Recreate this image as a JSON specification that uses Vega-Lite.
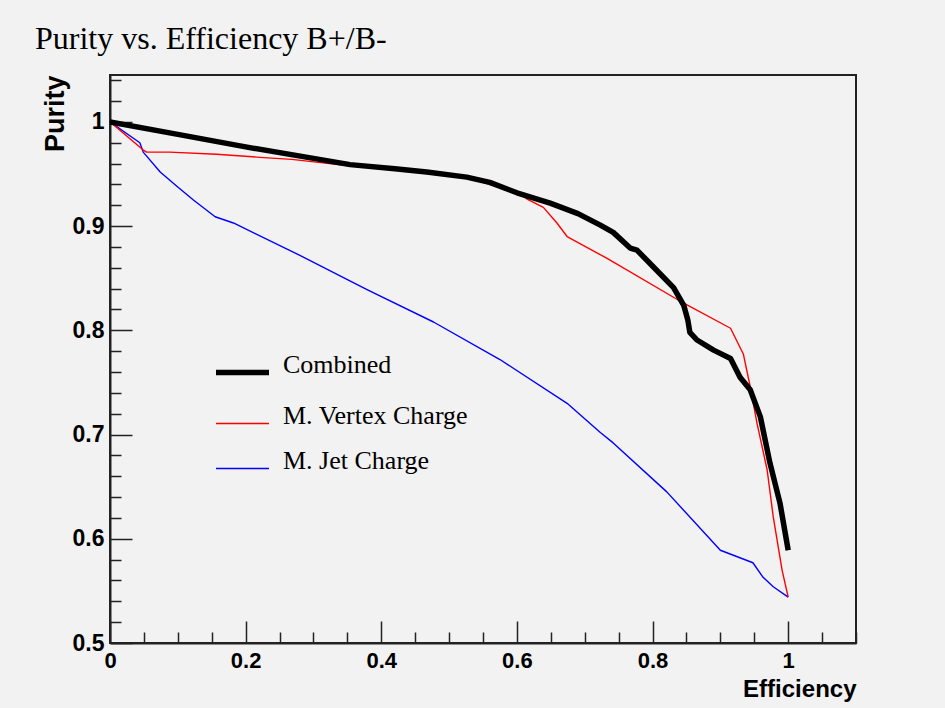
{
  "$schema": "https://vega.github.io/schema/vega-lite/v6.json",
  "width": 746,
  "height": 568,
  "autosize": {"type": "none"},
  "padding": {"left": 110, "top": 75, "right": 89, "bottom": 65},
  "background": "#f2f2f2",
  "config": {
    "view": {"stroke": "#222", "strokeWidth": 2},
    "font": "Liberation Sans",
    "legend": {
      "orient": "none",
      "legendX": 103,
      "legendY": 268,
      "title": null,
      "symbolType": "stroke",
      "symbolSize": 2809,
      "labelFont": "Liberation Serif",
      "labelFontSize": 26,
      "labelColor": "black",
      "labelOffset": 11,
      "labelLimit": 500,
      "labelBaseline": "alphabetic",
      "rowPadding": 12,
      "padding": 0
    }
  },
  "title": {
    "text": "Purity vs. Efficiency B+/B-",
    "anchor": "start",
    "frame": "group",
    "font": "Liberation Serif",
    "fontSize": 32,
    "fontWeight": "normal",
    "color": "black",
    "dx": -75,
    "offset": 13
  },
  "data": {
    "values": [
      {"s": "M. Jet Charge", "e": 0, "p": 1.0},
      {"s": "M. Jet Charge", "e": 0.044, "p": 0.98},
      {"s": "M. Jet Charge", "e": 0.049, "p": 0.971},
      {"s": "M. Jet Charge", "e": 0.074, "p": 0.952},
      {"s": "M. Jet Charge", "e": 0.099, "p": 0.938},
      {"s": "M. Jet Charge", "e": 0.123, "p": 0.925},
      {"s": "M. Jet Charge", "e": 0.155, "p": 0.909},
      {"s": "M. Jet Charge", "e": 0.182, "p": 0.903},
      {"s": "M. Jet Charge", "e": 0.28, "p": 0.872},
      {"s": "M. Jet Charge", "e": 0.379, "p": 0.839},
      {"s": "M. Jet Charge", "e": 0.477, "p": 0.808},
      {"s": "M. Jet Charge", "e": 0.575, "p": 0.772},
      {"s": "M. Jet Charge", "e": 0.674, "p": 0.73},
      {"s": "M. Jet Charge", "e": 0.723, "p": 0.702},
      {"s": "M. Jet Charge", "e": 0.742, "p": 0.692},
      {"s": "M. Jet Charge", "e": 0.821, "p": 0.645},
      {"s": "M. Jet Charge", "e": 0.9, "p": 0.589},
      {"s": "M. Jet Charge", "e": 0.948, "p": 0.577},
      {"s": "M. Jet Charge", "e": 0.963, "p": 0.563},
      {"s": "M. Jet Charge", "e": 0.978, "p": 0.554},
      {"s": "M. Jet Charge", "e": 1.0, "p": 0.544},
      {"s": "M. Vertex Charge", "e": 0, "p": 1.0},
      {"s": "M. Vertex Charge", "e": 0.049, "p": 0.973},
      {"s": "M. Vertex Charge", "e": 0.054, "p": 0.971},
      {"s": "M. Vertex Charge", "e": 0.088, "p": 0.971},
      {"s": "M. Vertex Charge", "e": 0.157, "p": 0.969},
      {"s": "M. Vertex Charge", "e": 0.221, "p": 0.966},
      {"s": "M. Vertex Charge", "e": 0.268, "p": 0.964},
      {"s": "M. Vertex Charge", "e": 0.35, "p": 0.958},
      {"s": "M. Vertex Charge", "e": 0.47, "p": 0.953},
      {"s": "M. Vertex Charge", "e": 0.53, "p": 0.946},
      {"s": "M. Vertex Charge", "e": 0.6, "p": 0.932},
      {"s": "M. Vertex Charge", "e": 0.615, "p": 0.926},
      {"s": "M. Vertex Charge", "e": 0.639, "p": 0.918},
      {"s": "M. Vertex Charge", "e": 0.659, "p": 0.903},
      {"s": "M. Vertex Charge", "e": 0.674, "p": 0.89},
      {"s": "M. Vertex Charge", "e": 0.733, "p": 0.869},
      {"s": "M. Vertex Charge", "e": 0.846, "p": 0.826},
      {"s": "M. Vertex Charge", "e": 0.915, "p": 0.802},
      {"s": "M. Vertex Charge", "e": 0.934, "p": 0.777},
      {"s": "M. Vertex Charge", "e": 0.944, "p": 0.746},
      {"s": "M. Vertex Charge", "e": 0.954, "p": 0.711},
      {"s": "M. Vertex Charge", "e": 0.969, "p": 0.666},
      {"s": "M. Vertex Charge", "e": 0.978, "p": 0.621},
      {"s": "M. Vertex Charge", "e": 0.991, "p": 0.57},
      {"s": "M. Vertex Charge", "e": 1.0, "p": 0.544},
      {"s": "Combined", "e": 0, "p": 1.0},
      {"s": "Combined", "e": 0.1, "p": 0.988},
      {"s": "Combined", "e": 0.2, "p": 0.976},
      {"s": "Combined", "e": 0.3, "p": 0.965},
      {"s": "Combined", "e": 0.354, "p": 0.959},
      {"s": "Combined", "e": 0.42, "p": 0.955},
      {"s": "Combined", "e": 0.467, "p": 0.952},
      {"s": "Combined", "e": 0.526, "p": 0.947},
      {"s": "Combined", "e": 0.56, "p": 0.942},
      {"s": "Combined", "e": 0.6, "p": 0.932},
      {"s": "Combined", "e": 0.649, "p": 0.922},
      {"s": "Combined", "e": 0.69, "p": 0.912},
      {"s": "Combined", "e": 0.723, "p": 0.901},
      {"s": "Combined", "e": 0.742, "p": 0.894},
      {"s": "Combined", "e": 0.767, "p": 0.879},
      {"s": "Combined", "e": 0.777, "p": 0.877},
      {"s": "Combined", "e": 0.801, "p": 0.861},
      {"s": "Combined", "e": 0.831, "p": 0.841},
      {"s": "Combined", "e": 0.846, "p": 0.824},
      {"s": "Combined", "e": 0.852, "p": 0.81},
      {"s": "Combined", "e": 0.855, "p": 0.798},
      {"s": "Combined", "e": 0.865, "p": 0.791},
      {"s": "Combined", "e": 0.89, "p": 0.781},
      {"s": "Combined", "e": 0.915, "p": 0.773},
      {"s": "Combined", "e": 0.929, "p": 0.755},
      {"s": "Combined", "e": 0.944, "p": 0.743},
      {"s": "Combined", "e": 0.959, "p": 0.717},
      {"s": "Combined", "e": 0.973, "p": 0.673},
      {"s": "Combined", "e": 0.988, "p": 0.634},
      {"s": "Combined", "e": 1.0, "p": 0.589}
    ]
  },
  "mark": {"type": "line", "clip": true, "strokeJoin": "round"},
  "encoding": {
    "x": {
      "field": "e",
      "type": "quantitative",
      "scale": {"domain": [0, 1.1], "nice": false, "zero": false},
      "axis": {
        "title": "Efficiency",
        "values": [0, 0.05, 0.1, 0.15, 0.2, 0.25, 0.3, 0.35, 0.4, 0.45, 0.5, 0.55, 0.6, 0.65, 0.7, 0.75, 0.8, 0.85, 0.9, 0.95, 1, 1.05, 1.1],
        "labelExpr": "abs(round(datum.value*5)-datum.value*5)<1e-6 ? format(datum.value,'.1~f') : ''",
        "tickSize": {"condition": {"test": "abs(round(datum.value*5)-datum.value*5)<1e-6", "value": -22}, "value": -11},
        "labelPadding": 29,
        "labelFont": "Liberation Sans",
        "labelFontWeight": "bold",
        "labelFontSize": 22,
        "labelColor": "black",
        "labelFlush": false,
        "labelOverlap": false,
        "domainColor": "#222",
        "domainWidth": 2,
        "tickColor": "#222",
        "tickWidth": 1.5,
        "grid": false,
        "titleFont": "Liberation Sans",
        "titleFontWeight": "bold",
        "titleFontSize": 24,
        "titleColor": "black",
        "titleAlign": "right",
        "titleX": 746,
        "titleY": 53,
        "titleBaseline": "alphabetic"
      }
    },
    "y": {
      "field": "p",
      "type": "quantitative",
      "scale": {"domain": [0.5, 1.045], "nice": false, "zero": false},
      "axis": {
        "title": "Purity",
        "values": [0.5, 0.52, 0.54, 0.56, 0.58, 0.6, 0.62, 0.64, 0.66, 0.68, 0.7, 0.72, 0.74, 0.76, 0.78, 0.8, 0.82, 0.84, 0.86, 0.88, 0.9, 0.92, 0.94, 0.96, 0.98, 1, 1.02, 1.04],
        "labelExpr": "abs(round(datum.value*10)-datum.value*10)<1e-6 ? format(datum.value,'.1~f') : ''",
        "tickSize": {"condition": {"test": "abs(round(datum.value*10)-datum.value*10)<1e-6", "value": -22}, "value": -11},
        "labelPadding": 28,
        "labelFont": "Liberation Sans",
        "labelFontWeight": "bold",
        "labelFontSize": 23,
        "labelColor": "black",
        "labelFlush": false,
        "labelOverlap": false,
        "domainColor": "#222",
        "domainWidth": 2,
        "tickColor": "#222",
        "tickWidth": 1.5,
        "grid": false,
        "titleFont": "Liberation Sans",
        "titleFontWeight": "bold",
        "titleFontSize": 27,
        "titleColor": "black",
        "titleAngle": -90,
        "titleAlign": "right",
        "titleBaseline": "middle",
        "titleX": -55,
        "titleY": 0
      }
    },
    "color": {
      "field": "s",
      "type": "nominal",
      "scale": {"domain": ["Combined", "M. Vertex Charge", "M. Jet Charge"], "range": ["#000000", "#ff0000", "#0000ff"]}
    },
    "strokeWidth": {
      "field": "s",
      "type": "nominal",
      "scale": {"type": "ordinal", "domain": ["Combined", "M. Vertex Charge", "M. Jet Charge"], "range": [5.5, 1.4, 1.4]}
    }
  }
}
